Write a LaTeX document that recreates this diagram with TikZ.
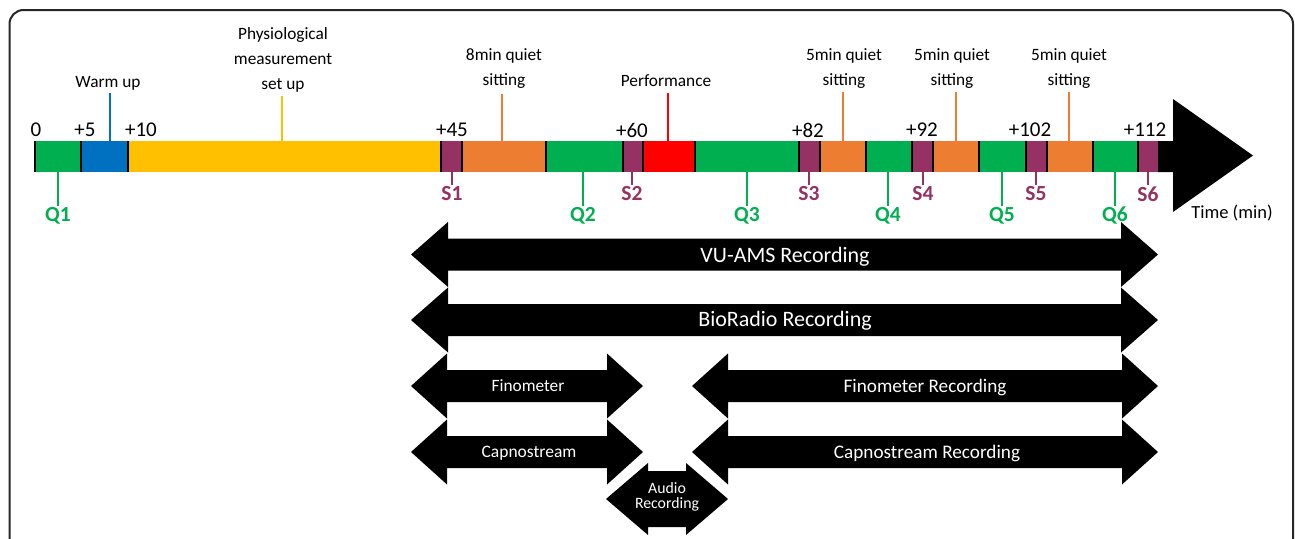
\documentclass[tikz,border=0pt]{standalone}
\usepackage{fontspec}
\setmainfont{Carlito}
\definecolor{qgreen}{HTML}{00B050}
\definecolor{wblue}{HTML}{0070C0}
\definecolor{pyellow}{HTML}{FFC000}
\definecolor{spurple}{HTML}{953163}
\definecolor{qorange}{HTML}{ED7D31}
\definecolor{pred}{HTML}{FF0000}
\newcommand{\dblarrow}[6]{%
  \fill (#1,#3) -- ({#1+#6},{#3-#5}) -- ({#1+#6},{#3-#4}) -- ({#2-#6},{#3-#4})
   -- ({#2-#6},{#3-#5}) -- (#2,#3) -- ({#2-#6},{#3+#5}) -- ({#2-#6},{#3+#4})
   -- ({#1+#6},{#3+#4}) -- ({#1+#6},{#3+#5}) -- cycle;}
\begin{document}
\begin{tikzpicture}[x=1pt,y=-1pt,
  ticklbl/.style={font=\fontsize{21}{24}\selectfont, inner sep=0pt},
  phaselbl/.style={font=\fontsize{17.3}{25}\selectfont, align=center, inner sep=0pt},
  qlbl/.style={font=\fontsize{21.5}{24}\selectfont\bfseries, text=qgreen, inner sep=0pt},
  slbl/.style={font=\fontsize{21.5}{24}\selectfont\bfseries, text=spurple, inner sep=0pt},
  arrlbl/.style={text=white, inner sep=0pt, align=center},
  divider/.style={line width=2.2pt, black},
  pointer/.style={line width=2pt}]
\useasboundingbox (0,0) rectangle (1295,538);
\fill[white] (0,0) rectangle (1295,538);
% frame
\draw[line width=2pt, rounded corners=14pt, black!85] (9.5,560) -- (9.5,10) -- (1293,10) -- (1293,560);
% timeline segments
\def\yt{141}\def\yb{172}
\fill[qgreen]  (34,\yt) rectangle (81,\yb);
\fill[wblue]   (81,\yt) rectangle (128,\yb);
\fill[pyellow] (128,\yt) rectangle (441,\yb);
\fill[spurple] (441,\yt) rectangle (462,\yb);
\fill[qorange] (462,\yt) rectangle (546,\yb);
\fill[qgreen]  (546,\yt) rectangle (623,\yb);
\fill[spurple] (623,\yt) rectangle (643,\yb);
\fill[pred]    (643,\yt) rectangle (695,\yb);
\fill[qgreen]  (695,\yt) rectangle (799,\yb);
\fill[spurple] (799,\yt) rectangle (820,\yb);
\fill[qorange] (820,\yt) rectangle (866,\yb);
\fill[qgreen]  (866,\yt) rectangle (912,\yb);
\fill[spurple] (912,\yt) rectangle (933,\yb);
\fill[qorange] (933,\yt) rectangle (979,\yb);
\fill[qgreen]  (979,\yt) rectangle (1026,\yb);
\fill[spurple] (1026,\yt) rectangle (1047,\yb);
\fill[qorange] (1047,\yt) rectangle (1093,\yb);
\fill[qgreen]  (1093,\yt) rectangle (1138,\yb);
\fill[spurple] (1138,\yt) rectangle (1158,\yb);
% time arrow
\fill[black] (1158,\yt) -- (1173,\yt) -- (1173,99) -- (1253,155.5) -- (1173,212) -- (1173,\yb) -- (1158,\yb) -- cycle;
% dividers
\foreach \x in {35,81,128,441,462,546,623,643,695,799,820,866,912,933,979,1026,1047,1093,1138}
  \draw[divider] (\x,\yt) -- (\x,\yb);
% tick labels
\node[ticklbl] (t0)   at (36,130) {0};
\node[ticklbl] (t5)   at (85,130) {+5};
\node[ticklbl] (t10)  at (141,130) {+10};
\node[ticklbl] (t45)  at (452,130) {+45};
\node[ticklbl] (t60)  at (632,130) {+60};
\node[ticklbl] (t82)  at (808,130) {+82};
\node[ticklbl] (t92)  at (922,130) {+92};
\node[ticklbl] (t102) at (1030,130) {+102};
\node[ticklbl] (t112) at (1145,130) {+112};
% phase labels and pointers
\node[phaselbl] (warm) at (108,83) {Warm up};
\draw[pointer, wblue] (110,93) -- (110,\yt);
\node[phaselbl] (phys) at (283,60) {Physiological\\measurement\\set up};
\draw[pointer, pyellow] (282,96) -- (282,\yt);
\node[phaselbl] (q8) at (504,68.5) {8min quiet\\sitting};
\draw[pointer, qorange] (502,94) -- (502,\yt);
\node[phaselbl] (perf) at (666,81) {Performance};
\draw[pointer, pred] (668,93) -- (668,\yt);
\node[phaselbl] (q5a) at (844,68.5) {5min quiet\\sitting};
\draw[pointer, qorange] (843,92) -- (843,\yt);
\node[phaselbl] (q5b) at (952,68.5) {5min quiet\\sitting};
\draw[pointer, qorange] (956,92) -- (956,\yt);
\node[phaselbl] (q5c) at (1069,68.5) {5min quiet\\sitting};
\draw[pointer, qorange] (1069,92) -- (1069,\yt);
% Q and S markers
\foreach \x/\n in {58/1,583/2,747/3,888/4,1002/5,1115/6}{
  \draw[pointer, qgreen] (\x,\yb) -- (\x,206);
  \node[qlbl] (Q\n) at (\x,216) {Q\n};
}
\foreach \x/\n in {452/1,632/2,809/3,923/4,1036/5,1148/6}{
  \draw[pointer, spurple] (\x,\yb) -- (\x,185);
  \node[slbl] (S\n) at (\x,194) {S\n};
}
\node[font=\fontsize{18.5}{20}\selectfont, inner sep=0pt] (time) at (1232,213) {Time (min)};
% recording arrows
\dblarrow{411}{1158}{254.5}{16}{32.5}{37}
\node[arrlbl, font=\fontsize{22}{24}\selectfont] (vu) at (785,257) {VU-AMS Recording};
\dblarrow{411}{1158}{320}{16}{32.5}{37}
\node[arrlbl, font=\fontsize{22}{24}\selectfont] (bio) at (785,321) {BioRadio Recording};
\dblarrow{411}{643}{386}{16}{32.5}{36}
\node[arrlbl, font=\fontsize{17.3}{20}\selectfont] (fin) at (528,386) {Finometer};
\dblarrow{411}{643}{452}{16}{32.5}{36}
\node[arrlbl, font=\fontsize{17.5}{20}\selectfont] (cap) at (529,453) {Capnostream};
\dblarrow{692}{1158}{386}{16}{32.5}{36}
\node[arrlbl, font=\fontsize{19.2}{22}\selectfont] (finr) at (925,387) {Finometer Recording};
\dblarrow{692}{1158}{452}{16}{32.5}{36}
\node[arrlbl, font=\fontsize{19.2}{22}\selectfont] (capr) at (927,453) {Capnostream Recording};
\dblarrow{606}{728}{499}{28}{36}{42}
\node[arrlbl, font=\fontsize{15.8}{15}\selectfont] (aud) at (667,497) {Audio\\Recording};
\end{tikzpicture}
\end{document}
